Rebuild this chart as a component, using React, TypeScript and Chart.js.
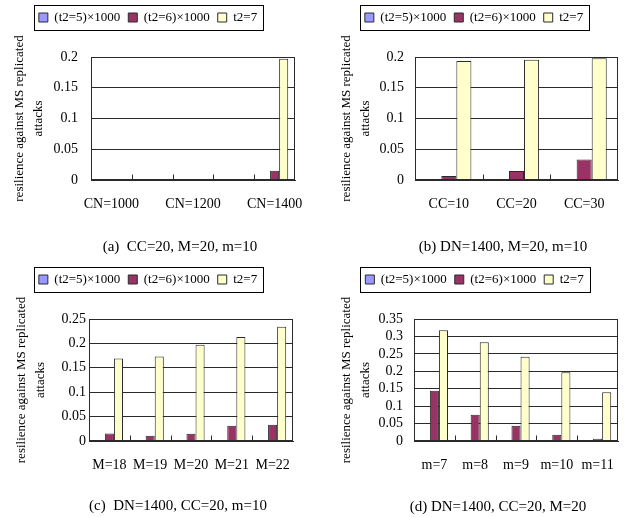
import React, { useEffect, useRef } from "react";
import { Chart, registerables } from "chart.js";

Chart.register(...registerables);

// ---------- data ----------
const seriesNames = ["(t2=5)×1000", "(t2=6)×1000", "t2=7"];
const seriesColors = ["#9999FF", "#993366", "#FFFFCC"];

const aLabels = ["CN=1000", "", "CN=1200", "", "CN=1400"];
const aT5 = [0, 0, 0, 0, 0];
const aT6 = [0, 0, 0, 0, 0.015];
const aT7 = [0, 0, 0, 0, 0.197];

const bLabels = ["CC=10", "CC=20", "CC=30"];
const bT5 = [0, 0, 0];
const bT6 = [0.0065, 0.0147, 0.0332];
const bT7 = [0.1935, 0.1956, 0.198];

const cLabels = ["M=18", "M=19", "M=20", "M=21", "M=22"];
const cT5 = [0, 0, 0, 0, 0];
const cT6 = [0.0155, 0.0106, 0.015, 0.031, 0.0335];
const cT7 = [0.169, 0.173, 0.197, 0.213, 0.234];

const dLabels = ["m=7", "m=8", "m=9", "m=10", "m=11"];
const dT5 = [0, 0, 0, 0, 0];
const dT6 = [0.144, 0.075, 0.044, 0.018, 0.0067];
const dT7 = [0.318, 0.283, 0.242, 0.197, 0.14];

const yTitleLines = ["resilience against MS replicated", "attacks"];
const captions = [
  "(a)  CC=20, M=20, m=10",
  "(b) DN=1400, M=20, m=10",
  "(c)  DN=1400, CC=20, m=10",
  "(d) DN=1400, CC=20, M=20",
];

// ---------- layout ----------
const FONT = "'Liberation Serif', 'Times New Roman', serif";
const LINE = "#2a2a2a";

type Layout = {
  left: number; top: number; width: number; height: number;
  padL: number; padR: number; padT: number; legendH: number;
  yWidth: number; xHeight: number; tickGap: number; titlePad: number;
  capX: number; capY: number;
};

const layouts: Layout[] = [
  { left: 0, top: 0, width: 315, height: 258, padL: 1, padR: 20, padT: 3, legendH: 54, yWidth: 90, xHeight: 78, tickGap: 13, titlePad: 9.6, capX: 180, capY: 246 },
  { left: 315, top: 0, width: 316, height: 258, padL: 15, padR: 13, padT: 3, legendH: 54, yWidth: 85, xHeight: 78, tickGap: 11, titlePad: 7.6, capX: 503, capY: 246 },
  { left: 0, top: 258, width: 315, height: 259, padL: 3, padR: 22, padT: 7, legendH: 54, yWidth: 86, xHeight: 76, tickGap: 3, titlePad: 9.6, capX: 178, capY: 505 },
  { left: 315, top: 258, width: 316, height: 259, padL: 16, padR: 13, padT: 7, legendH: 54, yWidth: 83, xHeight: 76, tickGap: 11, titlePad: 6.6, capX: 498, capY: 506 },
];

type PanelData = { labels: string[]; series: number[][]; yMax: number };
const panels: PanelData[] = [
  { labels: aLabels, series: [aT5, aT6, aT7], yMax: 0.2 },
  { labels: bLabels, series: [bT5, bT6, bT7], yMax: 0.2 },
  { labels: cLabels, series: [cT5, cT6, cT7], yMax: 0.25 },
  { labels: dLabels, series: [dT5, dT6, dT7], yMax: 0.35 },
];

const legendHeightPlugin = (h: number) => ({
  id: "legendHeight",
  beforeInit(chart: any) {
    const lg = chart.legend;
    if (!lg) return;
    const orig = lg.fit;
    lg.fit = function () {
      orig.call(this);
      this.height = h;
    };
  },
});

const framePlugin = {
  id: "frameAndTicks",
  afterDatasetsDraw(chart: any) {
    const { ctx, chartArea } = chart;
    const xs = chart.scales.x;
    ctx.save();
    ctx.strokeStyle = LINE;
    ctx.lineWidth = 1;
    const l = Math.round(chartArea.left) + 0.5;
    const r = Math.round(chartArea.right) - 0.5;
    const t = Math.round(chartArea.top) + 0.5;
    const b = Math.round(chartArea.bottom) - 0.5;
    ctx.strokeRect(l, t, r - l, b - t);
    const n = xs.ticks.length;
    ctx.beginPath();
    for (let i = 1; i < n; i++) {
      const x = Math.round((xs.getPixelForTick(i - 1) + xs.getPixelForTick(i)) / 2) + 0.5;
      ctx.moveTo(x, b);
      ctx.lineTo(x, b - 5);
    }
    ctx.stroke();
    ctx.restore();
  },
  afterDraw(chart: any) {
    const lg = chart.legend;
    if (!lg || !lg.legendHitBoxes || !lg.legendHitBoxes.length) return;
    const hb = lg.legendHitBoxes;
    let minL = Infinity, maxR = -Infinity, minT = Infinity, maxB = -Infinity;
    hb.forEach((h: any) => {
      minL = Math.min(minL, h.left);
      maxR = Math.max(maxR, h.left + h.width);
      minT = Math.min(minT, h.top);
      maxB = Math.max(maxB, h.top + h.height);
    });
    const ctx = chart.ctx;
    ctx.save();
    ctx.strokeStyle = "#000";
    ctx.lineWidth = 1;
    const x0 = Math.round(minL - 5) + 0.5;
    const x1 = Math.round(maxR + 6) + 0.5;
    const y0 = Math.round(minT - 6) + 0.5;
    const y1 = Math.round(maxB + 6) + 0.5;
    ctx.strokeRect(x0, y0, x1 - x0, y1 - y0);
    ctx.restore();
  },
};

function Panel({ data, lay }: { data: PanelData; lay: Layout }) {
  const ref = useRef<HTMLCanvasElement | null>(null);
  useEffect(() => {
    if (!ref.current) return;
    const chart = new Chart(ref.current, {
      type: "bar",
      data: {
        labels: data.labels,
        datasets: data.series.map((vals, i) => ({
          label: seriesNames[i],
          data: vals,
          backgroundColor: seriesColors[i],
          borderColor: LINE,
          borderWidth: 1,
          categoryPercentage: 0.667,
          barPercentage: 1,
        })),
      },
      options: {
        responsive: false,
        animation: false,
        events: [],
        layout: { padding: { left: lay.padL, right: lay.padR, top: lay.padT, bottom: 0 } },
        plugins: {
          tooltip: { enabled: false },
          title: { display: false },
          legend: {
            display: true,
            position: "top",
            labels: {
              boxWidth: 9,
              boxHeight: 9,
              padding: 8,
              color: "#000",
              font: { family: FONT, size: 13 },
            },
          },
        },
        scales: {
          x: {
            grid: { display: false },
            border: { display: true, color: LINE },
            ticks: {
              autoSkip: false,
              maxRotation: 0,
              padding: 8,
              color: "#000",
              font: { family: FONT, size: 14 },
            },
            afterFit: (s: any) => { s.height = lay.xHeight; },
          },
          y: {
            min: 0,
            max: data.yMax,
            grid: { color: LINE, lineWidth: 1, drawTicks: false },
            border: { display: true, color: LINE },
            ticks: {
              stepSize: 0.05,
              autoSkip: false,
              padding: lay.tickGap,
              color: "#000",
              font: { family: FONT, size: 14 },
              callback: (v: any) => String(Number(Number(v).toFixed(2))),
            },
            title: {
              display: true,
              text: yTitleLines,
              color: "#000",
              font: { family: FONT, size: 13, lineHeight: 1.45 },
              padding: { top: lay.titlePad, bottom: 0 },
            },
            afterFit: (s: any) => { s.width = lay.yWidth; },
          },
        },
      } as any,
      plugins: [legendHeightPlugin(lay.legendH), framePlugin],
    });
    return () => chart.destroy();
  }, [data, lay]);
  return (
    <canvas
      ref={ref}
      width={lay.width}
      height={lay.height}
      style={{ position: "absolute", left: lay.left, top: lay.top, width: lay.width, height: lay.height, display: "block" }}
    />
  );
}

export default function App() {
  return (
    <div style={{ position: "absolute", left: 0, top: 0, width: 631, height: 517, background: "#fff", overflow: "hidden" }}>
      {panels.map((p, i) => (
        <Panel key={i} data={p} lay={layouts[i]} />
      ))}
      {captions.map((c, i) => (
        <div
          key={"cap" + i}
          style={{
            position: "absolute",
            left: layouts[i].capX - 120,
            top: layouts[i].capY - 10,
            width: 240,
            height: 20,
            lineHeight: "20px",
            textAlign: "center",
            whiteSpace: "pre",
            fontFamily: FONT,
            fontSize: 15,
            color: "#000",
          }}
        >
          {c}
        </div>
      ))}
    </div>
  );
}
